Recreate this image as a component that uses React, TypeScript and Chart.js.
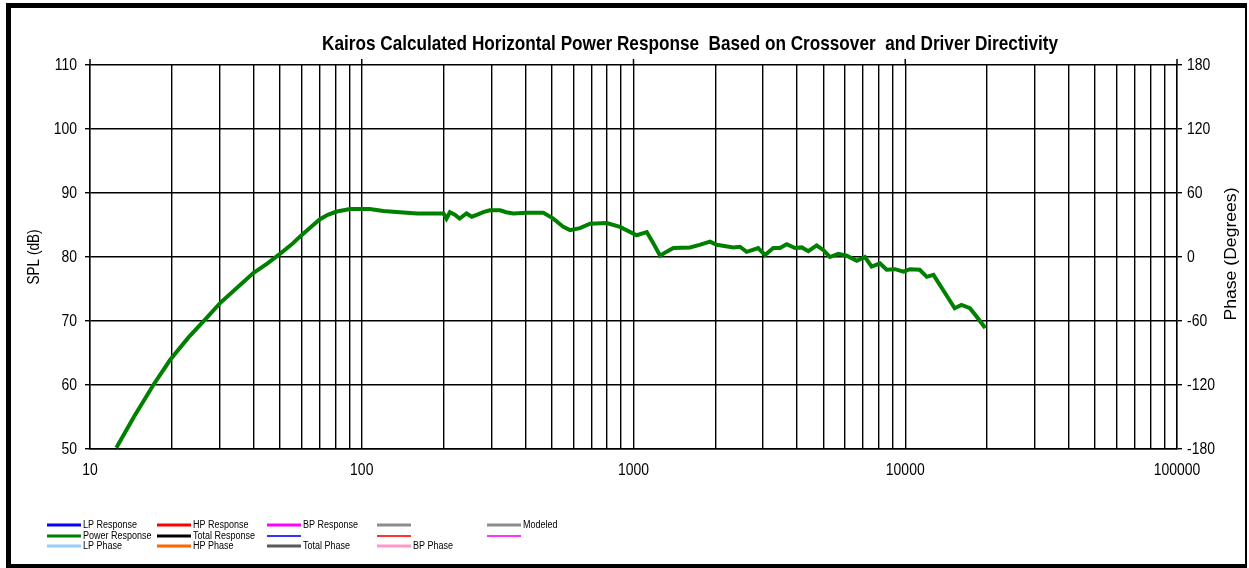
import React, { useEffect, useRef } from "react";
import { Chart, registerables } from "chart.js";

Chart.register(...registerables);

const TITLE = "Kairos Calculated Horizontal Power Response  Based on Crossover  and Driver Directivity";
const LEFT_AXIS_TITLE = "SPL (dB)";
const RIGHT_AXIS_TITLE = "Phase (Degrees)";

const frequencies = [
  12.5, 14.5, 17.1, 19.7, 23, 26.5, 30.1, 35, 39.9, 45, 50, 55, 59.3, 65, 70.2, 75, 80.9, 90.6,
  107, 120, 138, 160, 200, 205, 211, 220, 229, 243, 254, 265, 280, 296, 323, 340, 361, 404, 466,
  507, 552, 584, 635, 692, 797, 892, 1027, 1080, 1119, 1184, 1253, 1320, 1401, 1614, 1750, 1913,
  2024, 2330, 2465, 2609, 2877, 3048, 3269, 3460, 3661, 3929, 4160, 4400, 4720, 4990, 5280, 5670,
  6090, 6630, 7110, 7520, 8070, 8540, 9170, 9840, 10400, 11300, 12000, 12700, 13800, 15200, 16100,
  17300, 18300, 19700,
];
const powerResponse = [
  50.2, 55.0, 60.0, 63.9, 67.4, 70.2, 72.8, 75.3, 77.5, 79.0, 80.5, 81.9, 83.2, 84.7, 85.9, 86.6, 87.1, 87.5,
  87.5, 87.2, 87.0, 86.8, 86.8, 86.0, 87.0, 86.6, 86.0, 86.8, 86.3, 86.6, 87.0, 87.3, 87.3, 87.0, 86.8, 86.9, 86.9,
  86.0, 84.7, 84.2, 84.5, 85.2, 85.3, 84.7, 83.4, 83.7, 83.9, 82.1, 80.2, 80.8, 81.4, 81.5, 81.9, 82.4,
  81.9, 81.5, 81.6, 80.8, 81.4, 80.3, 81.4, 81.4, 82.0, 81.4, 81.5, 80.9, 81.8, 81.1, 80.0, 80.5,
  80.2, 79.4, 80.0, 78.5, 79.0, 78.0, 78.1, 77.7, 78.1, 78.0, 76.9, 77.2, 74.8, 72.0, 72.5,
  72.0, 70.7, 68.9,
];

const decades = [10, 100, 1000, 10000, 100000];
const multipliers = [1, 2, 3, 4, 5, 6, 7, 8, 9];
const splTicks = [50, 60, 70, 80, 90, 100, 110];
const phaseTicks = [-180, -120, -60, 0, 60, 120, 180];

const legendLabels = [
  ["LP Response", "HP Response", "BP Response", "", "Modeled"],
  ["Power Response", "Total Response", "", "", ""],
  ["LP Phase", "HP Phase", "Total Phase", "BP Phase", ""],
];
const legendColors = [
  ["#0000FF", "#FF0000", "#FF00FF", "#8C8C8C", "#8C8C8C"],
  ["#008000", "#000000", "#3333FF", "#FF3333", "#FF33FF"],
  ["#99CCFF", "#FF6600", "#595959", "#FF99CC", ""],
];

const SANS = '"Liberation Sans", Arial, sans-serif';
const NARROW_X = 0.82;

const xGridValues: number[] = [];
decades.forEach((d) => {
  multipliers.forEach((m) => {
    const v = d * m;
    if (v <= decades[decades.length - 1]) xGridValues.push(v);
  });
});

function narrowText(ctx: any, text: string, x: number, y: number, align: string, sx: number, rot = 0) {
  ctx.save();
  ctx.translate(x, y);
  if (rot) ctx.rotate(rot);
  ctx.scale(sx, 1);
  ctx.textAlign = align;
  ctx.fillText(text, 0, 0);
  ctx.restore();
}

const decorPlugin = {
  id: "decor",
  beforeDraw(chart: any) {
    const ctx = chart.ctx;
    ctx.save();
    ctx.fillStyle = "#ffffff";
    ctx.fillRect(0, 0, chart.width, chart.height);
    ctx.restore();
  },
  afterDraw(chart: any) {
    const ctx = chart.ctx;
    const area = chart.chartArea;
    const xs = chart.scales.x;
    const ys = chart.scales.y;
    const y2 = chart.scales.y2;
    ctx.save();

    // decade tick marks above the plot
    ctx.strokeStyle = "#000";
    ctx.lineWidth = 1.5;
    decades.forEach((d) => {
      const px = xs.getPixelForValue(d);
      ctx.beginPath();
      ctx.moveTo(px, area.top - 6);
      ctx.lineTo(px, area.top);
      ctx.stroke();
    });

    ctx.fillStyle = "#000";
    ctx.textBaseline = "middle";
    ctx.font = `17px ${SANS}`;
    // tick labels
    splTicks.forEach((v) => narrowText(ctx, String(v), 77, ys.getPixelForValue(v), "right", NARROW_X));
    phaseTicks.forEach((v) => narrowText(ctx, String(v), 1187, y2.getPixelForValue(v), "left", NARROW_X));
    decades.forEach((v) => narrowText(ctx, String(v), xs.getPixelForValue(v), 470, "center", NARROW_X));

    // title
    ctx.font = `bold 21px ${SANS}`;
    ctx.textBaseline = "alphabetic";
    const tw = ctx.measureText(TITLE).width;
    narrowText(ctx, TITLE, 322, 50, "left", 736 / tw);

    // axis titles
    ctx.font = `16px ${SANS}`;
    ctx.textBaseline = "middle";
    const midY = (area.top + area.bottom) / 2;
    narrowText(ctx, LEFT_AXIS_TITLE, 35, midY, "center", 0.85, -Math.PI / 2);
    narrowText(ctx, RIGHT_AXIS_TITLE, 1232, midY - 3, "center", 1.1, -Math.PI / 2);

    // legend
    ctx.font = `10px ${SANS}`;
    ctx.textBaseline = "middle";
    const colX = [47, 157, 267, 377, 487];
    const rowY = [525, 536, 546];
    legendLabels.forEach((row, r) => {
      row.forEach((label, c) => {
        const color = legendColors[r][c];
        const y = rowY[r];
        if (color) {
          ctx.strokeStyle = color;
          ctx.lineWidth = r === 1 && c >= 2 ? 2 : 3;
          ctx.beginPath();
          ctx.moveTo(colX[c], y);
          ctx.lineTo(colX[c] + 34, y);
          ctx.stroke();
        }
        if (label) {
          ctx.fillStyle = "#000";
          narrowText(ctx, label, colX[c] + 36, y, "left", 0.9);
        }
      });
    });

    // frame
    ctx.fillStyle = "#000";
    ctx.fillRect(6, 3, 5, 562);
    ctx.fillRect(6, 3, 1241, 5);
    ctx.fillRect(6, 564, 1241, 4);
    ctx.fillRect(1245, 3, 2, 565);
    ctx.restore();
  },
};

export default function App() {
  const ref = useRef<HTMLCanvasElement | null>(null);

  useEffect(() => {
    if (!ref.current) return;
    const hidden = "rgba(0,0,0,0)";
    const tickFont = { family: SANS, size: 15 };
    const chart = new Chart(ref.current, {
      type: "line",
      data: {
        datasets: [
          {
            label: "Power Response",
            data: frequencies.map((f, i) => ({ x: f, y: powerResponse[i] })),
            borderColor: "#008000",
            backgroundColor: "#008000",
            borderWidth: 4,
            pointRadius: 0,
            tension: 0,
            xAxisID: "x",
            yAxisID: "y",
          },
        ],
      },
      options: {
        responsive: false,
        animation: false,
        layout: { padding: { top: 65, left: 0, right: 0, bottom: 0 } },
        plugins: { legend: { display: false }, title: { display: false }, tooltip: { enabled: false } },
        scales: {
          x: {
            type: "logarithmic",
            min: 10,
            max: 100000,
            afterBuildTicks: (s: any) => {
              s.ticks = xGridValues.map((v) => ({ value: v, major: false }));
            },
            ticks: {
              autoSkip: false,
              maxRotation: 0,
              color: hidden,
              font: tickFont,
              padding: 12,
              callback: (v: any) => (decades.includes(Number(v)) ? String(v) : ""),
            },
            grid: { color: "#000", lineWidth: 1.4, drawTicks: false },
            border: { color: "#000", width: 1.4 },
            afterFit: (s: any) => {
              s.height = 119;
            },
          },
          y: {
            position: "left",
            min: 50,
            max: 110,
            afterBuildTicks: (s: any) => {
              s.ticks = splTicks.map((v) => ({ value: v }));
            },
            ticks: { color: hidden, font: tickFont, padding: 8 },
            grid: { color: "#000", lineWidth: 1.4, tickLength: 5 },
            border: { color: "#000", width: 1.4 },
            afterFit: (s: any) => {
              s.width = 90;
            },
          },
          y2: {
            position: "right",
            min: -180,
            max: 180,
            afterBuildTicks: (s: any) => {
              s.ticks = phaseTicks.map((v) => ({ value: v }));
            },
            ticks: { color: hidden, font: tickFont, padding: 5 },
            grid: { drawOnChartArea: false, color: "#000", lineWidth: 1.4, tickLength: 5 },
            border: { color: "#000", width: 1.4 },
            afterFit: (s: any) => {
              s.width = 72;
            },
          },
        },
      },
      plugins: [decorPlugin],
    } as any);
    return () => chart.destroy();
  }, []);

  return (
    <canvas
      ref={ref}
      width={1249}
      height={568}
      style={{ position: "fixed", left: 0, top: 0, width: 1249, height: 568, display: "block" }}
    />
  );
}
